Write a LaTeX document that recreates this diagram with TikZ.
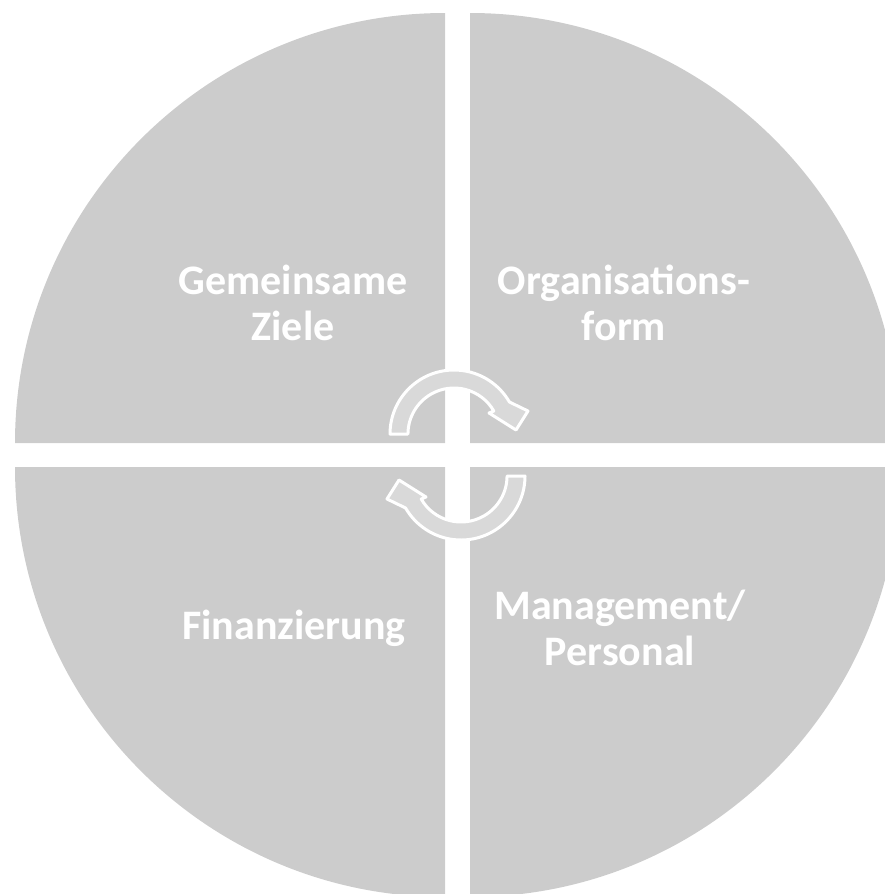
\documentclass[tikz,border=0pt]{standalone}
\usepackage{fontspec}
\setmainfont{Carlito}
\definecolor{quad}{HTML}{CCCCCC}
\definecolor{arrfill}{HTML}{D9D9D9}
\begin{document}
\begin{tikzpicture}[x=1pt,y=-1pt,
  quadrant/.style={fill=quad},
  cycarrow/.style={fill=arrfill,draw=white,line width=3pt,line join=round},
  label/.style={text=white,font=\bfseries\fontsize{42}{46}\selectfont,align=center,inner sep=0pt}]
\useasboundingbox (0,0) rectangle (884,894);
% quadrants
\fill[quadrant] (445,443) -- ++(-430,0) arc[start angle=180,end angle=270,radius=430] -- cycle;
\fill[quadrant] (470,443) -- ++(0,-430) arc[start angle=270,end angle=360,radius=430] -- cycle;
\fill[quadrant] (470,467) -- ++(430,0) arc[start angle=0,end angle=90,radius=430] -- cycle;
\fill[quadrant] (445,467) -- ++(0,430) arc[start angle=90,end angle=180,radius=430] -- cycle;
% circular arrows
\path[cycarrow] (390,434) arc[start angle=180,end angle=330,radius=64] -- (528,411) -- (516,430) -- (489,413) -- (493.8,411) arc[start angle=330,end angle=180,radius=46] -- cycle;
\begin{scope}[rotate around={180:(457.5,455)}]
\path[cycarrow] (390,434) arc[start angle=180,end angle=330,radius=64] -- (528,411) -- (516,430) -- (489,413) -- (493.8,411) arc[start angle=330,end angle=180,radius=46] -- cycle;
\end{scope}
% labels
\node[label] (ziele) at (293,303) {Gemeinsame\\Ziele};
\node[label] (orga) at (624,303) {Organisations-\\form};
\node[label] (fin) at (294,628) {Finanzierung};
\node[label] (mgmt) at (620,628) {Management/\\Personal};
\end{tikzpicture}
\end{document}
